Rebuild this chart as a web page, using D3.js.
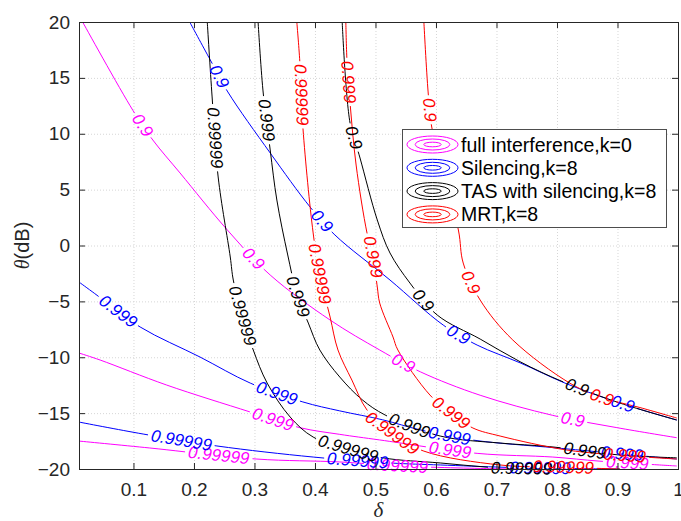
<!DOCTYPE html>
<html lang="en">
<head>
  <meta charset="UTF-8">
  <title>Contours: delta vs theta</title>
  <script src="https://d3js.org/d3.v7.min.js"></script>
  <style>
    body { margin: 0; background: #fff; }
    svg { display: block; font-family: "Liberation Sans", Arial, sans-serif; }
  </style>
</head>
<body>
  <script>
    // contour levels, same for every scheme
    const levels = ["0.9", "0.999", "0.99999"];
    const xTicks = [0.1, 0.2, 0.3, 0.4, 0.5, 0.6, 0.7, 0.8, 0.9, 1];
    const yTicks = [-20, -15, -10, -5, 0, 5, 10, 15, 20];
    const legendLabels = ["full interference,k=0", "Silencing,k=8", "TAS with silencing,k=8", "MRT,k=8"];

    // contour lines, one per level, points are [delta, theta(dB)]
    const fullInterference = [
      [[0.016, 20], [0.099, 12.1], [0.132, 9.44], [0.177, 6.49], [0.255, 1.4], [0.326, -2.64], [0.425, -6.67],
       [0.507, -9.35], [0.574, -11.3], [0.673, -13.4], [0.793, -15.2], [0.899, -16.3], [0.998, -17.2]],
      [[0.01, -9.62], [0.045, -10.25], [0.155, -12.49], [0.293, -14.9], [0.375, -16.3], [0.441, -16.9],
       [0.507, -17.4], [0.668, -18.6], [0.793, -18.93], [0.871, -19.3], [0.998, -19.73]],
      [[0.01, -17.5], [0.127, -18.12], [0.304, -19.11], [0.441, -19.37], [0.541, -19.73], [0.673, -19.95], [0.739, -20]]
    ];
    const silencing = [
      [[0.193, 20], [0.227, 16.6], [0.256, 13.74], [0.326, 8.28], [0.392, 3.44], [0.433, 0.94], [0.524, -3.09],
       [0.612, -7.12], [0.668, -8.91], [0.739, -10.5], [0.817, -12.4], [0.904, -14.1], [0.998, -15.62]],
      [[0.01, -3.27], [0.036, -4.3], [0.111, -7.29], [0.21, -9.98], [0.293, -12.31], [0.38, -14.0], [0.441, -14.8],
       [0.512, -15.6], [0.574, -16.5], [0.661, -17.41], [0.8, -18.12], [0.998, -19.11]],
      [[0.01, -15.8], [0.116, -16.87], [0.238, -17.94], [0.397, -18.93], [0.524, -19.46], [0.607, -19.64],
       [0.755, -19.91], [0.904, -20]]
    ];
    const tasSilencing = [
      [[0.445, 20], [0.458, 10.96], [0.474, 7.92], [0.503, 2.28], [0.524, -0.67], [0.557, -3.36], [0.602, -6.22],
       [0.673, -8.37], [0.739, -10.4], [0.81, -12.2], [0.904, -14.1], [0.998, -15.62]],
      [[0.306, 20], [0.314, 13.91], [0.326, 8.55], [0.337, 4.07], [0.355, -0.85], [0.371, -4.5], [0.389, -6.94],
       [0.408, -9.35], [0.441, -11.77], [0.478, -13.8], [0.516, -15.17], [0.607, -17.05], [0.706, -17.68],
       [0.788, -18.0], [0.904, -18.75], [0.998, -19.0]],
      [[0.222, 20], [0.23, 13.29], [0.24, 6.13], [0.26, -1.03], [0.265, -3.09], [0.28, -6.31], [0.298, -9.35],
       [0.321, -12.31], [0.359, -15.35], [0.397, -17.14], [0.455, -18.2], [0.512, -19.0], [0.607, -19.46],
       [0.706, -19.91], [0.805, -20]]
    ];
    const mrt = [
      [[0.58, 20], [0.587, 13.74], [0.593, 10.6], [0.637, 1.39], [0.645, -1.57], [0.673, -4.88], [0.727, -8.46],
       [0.821, -12.31], [0.874, -13.6], [0.937, -14.5], [0.998, -15.44]],
      [[0.451, 20], [0.453, 16.42], [0.458, 12.75], [0.468, 7.2], [0.486, 1.12], [0.496, -1.03], [0.503, -3.71],
       [0.507, -5.15], [0.529, -8.19], [0.537, -9.35], [0.59, -13.38], [0.625, -15.0], [0.661, -16.33],
       [0.706, -17.05], [0.816, -18.3], [0.912, -18.8], [0.998, -19.11]],
      [[0.37, 20], [0.375, 16.42], [0.38, 10.6], [0.397, 1.12], [0.408, -2.64], [0.425, -6.4], [0.438, -9.35],
       [0.461, -12.04], [0.486, -14.72], [0.527, -16.8], [0.58, -18.4], [0.706, -19.64], [0.81, -19.85], [0.904, -20]]
    ];

    // where the level labels sit on each line, [delta, theta(dB)]
    const fullInterferenceLabels = [
      [[0.116, 10.8], [0.293, -1.48], [0.546, -10.52], [0.825, -15.8]],
      [[0.329, -15.8], [0.623, -18.39], [0.916, -19.46]],
      [[0.241, -18.84], [0.536, -19.91]]
    ];
    const silencingLabels = [
      [[0.241, 15.08], [0.412, 2.19], [0.636, -8.1], [0.907, -14.45]],
      [[0.074, -5.95], [0.337, -13.2], [0.622, -17.05], [0.907, -18.84]],
      [[0.179, -17.5], [0.471, -19.2], [0.772, -19.9]]
    ];
    const tasSilencingLabels = [
      [[0.463, 9.62], [0.579, -4.88], [0.831, -13.02]],
      [[0.321, 11.23], [0.371, -4.6], [0.557, -15.97], [0.846, -18.48]],
      [[0.233, 9.62], [0.28, -6.3], [0.455, -18.12], [0.741, -19.73]]
    ];
    const mrtLabels = [
      [[0.587, 12.12], [0.658, -3.27], [0.874, -13.56]],
      [[0.455, 14.63], [0.496, -1.03], [0.625, -14.99], [0.912, -18.84]],
      [[0.377, 13.47], [0.408, -2.55], [0.527, -16.8], [0.81, -19.82]]
    ];

    const colors = ["#ff00ff", "#0000ff", "#000000", "#ff0000"];
    const series = [
      { lines: fullInterference, labels: fullInterferenceLabels },
      { lines: silencing, labels: silencingLabels },
      { lines: tasSilencing, labels: tasSilencingLabels },
      { lines: mrt, labels: mrtLabels }
    ];

    const w = 681;
    const h = 521;
    const margin = { top: 22, right: 3, bottom: 52, left: 79 };
    const axisColor = "#262626";

    const x = d3.scaleLinear().domain([0.01, 1]).range([margin.left, w - margin.right]);
    const y = d3.scaleLinear().domain([-20, 20]).range([h - margin.bottom, margin.top]);

    const svg = d3.select("body").append("svg")
      .attr("width", w)
      .attr("height", h);

    svg.append("clipPath").attr("id", "plot-clip")
      .append("rect")
      .attr("x", x.range()[0]).attr("y", y.range()[1])
      .attr("width", x.range()[1] - x.range()[0])
      .attr("height", y.range()[0] - y.range()[1]);

    // dotted grid
    const grid = svg.append("g")
      .attr("stroke", "#d6d6d6")
      .attr("stroke-width", 1)
      .attr("stroke-dasharray", "1,2");
    grid.selectAll(".gx").data(xTicks.filter(d => d < 1)).join("line")
      .attr("x1", d => x(d) + 0.5).attr("x2", d => x(d) + 0.5)
      .attr("y1", y.range()[1]).attr("y2", y.range()[0]);
    grid.selectAll(".gy").data(yTicks.filter(d => d > -20 && d < 20)).join("line")
      .attr("y1", d => y(d) + 0.5).attr("y2", d => y(d) + 0.5)
      .attr("x1", x.range()[0]).attr("x2", x.range()[1]);

    // contour lines with gaps for the labels
    const line = d3.line()
      .x(d => x(d[0]))
      .y(d => y(d[1]))
      .curve(d3.curveCatmullRom.alpha(0.5));

    const lineLayer = svg.append("g").attr("clip-path", "url(#plot-clip)");
    const labelLayer = svg.append("g");

    series.forEach((s, si) => {
      s.lines.forEach((pts, li) => {
        const path = lineLayer.append("path")
          .attr("d", line(pts))
          .attr("fill", "none")
          .attr("stroke", colors[si])
          .attr("stroke-width", 1);
        const node = path.node();
        const len = node.getTotalLength();
        const samples = d3.range(0, len, 0.5).map(l => {
          const p = node.getPointAtLength(l);
          return [l, p.x, p.y];
        });

        const gaps = [];
        s.labels[li].forEach(lp => {
          const px = x(lp[0]);
          const py = y(lp[1]);
          const best = d3.least(samples, d => (d[1] - px) ** 2 + (d[2] - py) ** 2);
          const at = best[0];
          const a = node.getPointAtLength(Math.max(0, at - 5));
          const b = node.getPointAtLength(Math.min(len, at + 5));
          let ang = Math.atan2(b.y - a.y, b.x - a.x) * 180 / Math.PI;
          if (ang > 90) ang -= 180;
          if (ang < -90) ang += 180;
          const t = labelLayer.append("text")
            .attr("transform", `translate(${best[1]},${best[2]}) rotate(${ang})`)
            .attr("text-anchor", "middle")
            .attr("dominant-baseline", "central")
            .attr("font-size", 17)
            .attr("font-style", "italic")
            .attr("fill", colors[si])
            .text(levels[li]);
          const hw = t.node().getComputedTextLength() / 2 + 3;
          gaps.push([at - hw, at + hw]);
        });

        gaps.sort((p, q) => p[0] - q[0]);
        const dash = [];
        let pos = 0;
        gaps.forEach(g => {
          if (g[1] <= pos) return;
          const s0 = Math.max(g[0], pos);
          dash.push(s0 - pos, g[1] - s0);
          pos = g[1];
        });
        if (dash.length) {
          dash.push(Math.max(len - pos, 0) + 10, 0);
          path.attr("stroke-dasharray", dash.join(" "));
        }
      });
    });

    // axes: ticks point inward on all four sides
    const fmt = d3.format("~g");
    const styleAxis = g => {
      g.select(".domain").remove();
      g.selectAll("line").attr("stroke", axisColor);
      g.selectAll("text").attr("fill", axisColor).attr("font-size", 19)
        .attr("font-family", "\"Liberation Sans\", Arial, sans-serif");
    };

    svg.append("g")
      .attr("transform", `translate(0,${y.range()[0]})`)
      .call(d3.axisBottom(x).tickValues(xTicks).tickFormat(fmt).tickSize(-6).tickSizeOuter(0).tickPadding(13.5))
      .call(styleAxis);
    svg.append("g")
      .attr("transform", `translate(0,${y.range()[1]})`)
      .call(d3.axisTop(x).tickValues(xTicks).tickFormat("").tickSize(-6).tickSizeOuter(0))
      .call(styleAxis);
    svg.append("g")
      .attr("transform", `translate(${x.range()[0]},0)`)
      .call(d3.axisLeft(y).tickValues(yTicks).tickSize(-6).tickSizeOuter(0).tickPadding(9))
      .call(styleAxis);
    svg.append("g")
      .attr("transform", `translate(${x.range()[1]},0)`)
      .call(d3.axisRight(y).tickValues(yTicks).tickFormat("").tickSize(-6).tickSizeOuter(0))
      .call(styleAxis);

    svg.append("rect")
      .attr("x", x.range()[0] + 0.5).attr("y", y.range()[1] + 0.5)
      .attr("width", x.range()[1] - x.range()[0])
      .attr("height", y.range()[0] - y.range()[1])
      .attr("fill", "none")
      .attr("stroke", axisColor)
      .attr("stroke-width", 1);

    // axis titles
    svg.append("text")
      .attr("x", (x.range()[0] + x.range()[1]) / 2)
      .attr("y", 517)
      .attr("text-anchor", "middle")
      .attr("font-family", "\"Liberation Serif\", serif")
      .attr("font-style", "italic")
      .attr("font-size", 21)
      .attr("fill", axisColor)
      .text("δ");

    const yTitle = svg.append("text")
      .attr("transform", `translate(29,${(y.range()[0] + y.range()[1]) / 2}) rotate(-90)`)
      .attr("text-anchor", "middle")
      .attr("font-size", 20)
      .attr("fill", axisColor);
    yTitle.append("tspan")
      .attr("font-family", "\"Liberation Serif\", serif")
      .attr("font-style", "italic")
      .text("θ");
    yTitle.append("tspan").text("(dB)");

    // legend
    const legend = svg.append("g").attr("transform", "translate(402,129)");
    legend.append("rect")
      .attr("x", 0.5).attr("y", 0.5)
      .attr("width", 264).attr("height", 98)
      .attr("fill", "#fff")
      .attr("stroke", "#4d4d4d")
      .attr("stroke-width", 1);

    const rows = legend.selectAll(".row").data(legendLabels).join("g")
      .attr("transform", (d, i) => `translate(0,${15.5 + i * 23.3})`);
    [[25.5, 8.5], [17.3, 5.5], [8.7, 2.3]].forEach(r => {
      rows.append("ellipse")
        .attr("cx", 30.5).attr("cy", 0)
        .attr("rx", r[0]).attr("ry", r[1])
        .attr("fill", "none")
        .attr("stroke", (d, i) => colors[i])
        .attr("stroke-width", 1);
    });
    rows.append("text")
      .attr("x", 59)
      .attr("dominant-baseline", "central")
      .attr("font-size", 19.5)
      .attr("fill", "#000")
      .text(d => d);
  </script>
</body>
</html>
